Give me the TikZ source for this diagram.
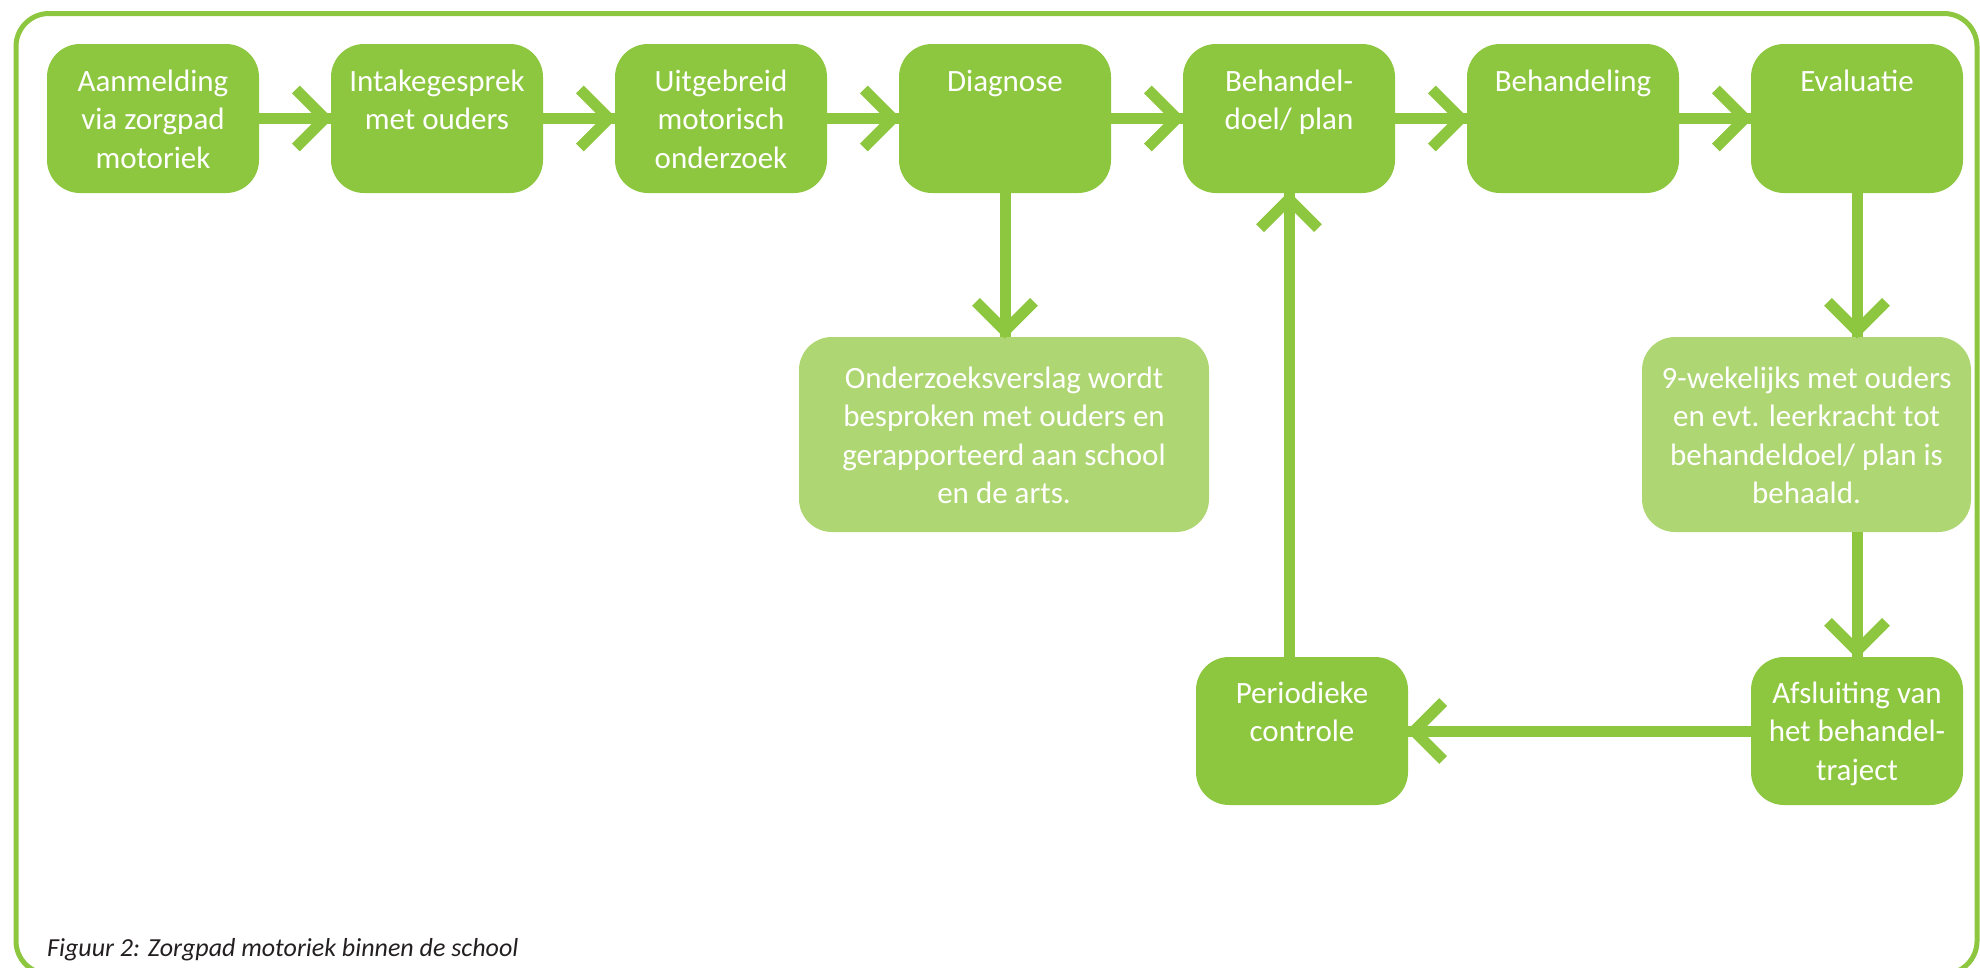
\documentclass[tikz,border=0pt]{standalone}
\usepackage{fontspec}
\setmainfont{Carlito}
\definecolor{dkgreen}{RGB}{141,198,63}
\definecolor{ltgreen}{RGB}{174,214,114}
\definecolor{captxt}{RGB}{35,31,32}
\tikzset{
  stepbox/.style={fill=dkgreen, rounded corners=33pt, inner sep=0pt, text=white},
  notebox/.style={fill=ltgreen, rounded corners=33pt, inner sep=0pt, text=white},
  conn/.style={draw=dkgreen, line width=11pt},
  chevline/.style={draw=dkgreen, line width=11pt, line join=miter, line cap=butt},
  frameline/.style={draw=dkgreen, line width=5pt, rounded corners=33pt},
  captionstyle/.style={anchor=base west, inner sep=0pt, text=captxt, font=\fontsize{26}{30}\selectfont\itshape}
}
\newcommand\boxtext[4]{\parbox[c][#2][t]{#1}{\centering\fontsize{31}{38.5}\selectfont\rule{0pt}{#3}#4}}
\newcommand\stepbx[1]{\boxtext{212pt}{149pt}{47pt}{#1}}
\newcommand\chev[2]{\draw[chevline, shift={(#1)}, rotate=#2] (-35,-29) -- (-6,0) -- (-35,29);}
\begin{document}
\begin{tikzpicture}[x=1pt,y=-1pt]
\useasboundingbox (0,0) rectangle (1980,967);
\draw[frameline] (16,13.5) rectangle (1977,974);

\node[stepbox] (b1) at (153,118.5) {\stepbx{Aanmelding\\via zorgpad\\motoriek}};
\node[stepbox] (b2) at (437,118.5) {\stepbx{Intakegesprek\\met ouders}};
\node[stepbox] (b3) at (721,118.5) {\stepbx{Uitgebreid\\motorisch\\onderzoek}};
\node[stepbox] (b4) at (1005,118.5) {\stepbx{Diagnose}};
\node[stepbox] (b5) at (1289,118.5) {\stepbx{Behandel-\\doel/ plan}};
\node[stepbox] (b6) at (1573,118.5) {\stepbx{Behandeling}};
\node[stepbox] (b7) at (1857,118.5) {\stepbx{Evaluatie}};

\node[notebox] (n1) at (1004,434.5) {\boxtext{410pt}{195pt}{51pt}{Onderzoeksverslag wordt\\besproken met ouders en\\gerapporteerd aan school\\en de arts.}};
\node[notebox] (n2) at (1806.5,434.5) {\boxtext{329pt}{195pt}{51pt}{9-wekelijks met ouders\\en evt. leerkracht tot\\behandeldoel/ plan is\\behaald.}};

\node[stepbox] (b8) at (1857,731) {\boxtext{212pt}{148pt}{46pt}{Afsluiting van\\het behandel-\\traject}};
\node[stepbox] (b9) at (1302,731) {\boxtext{212pt}{148pt}{46pt}{Periodieke\\controle}};

% top row connectors
\draw[conn] (b1.east) -- (b2.west); \chev{b2.west}{0}
\draw[conn] (b2.east) -- (b3.west); \chev{b3.west}{0}
\draw[conn] (b3.east) -- (b4.west); \chev{b4.west}{0}
\draw[conn] (b4.east) -- (b5.west); \chev{b5.west}{0}
\draw[conn] (b5.east) -- (b6.west); \chev{b6.west}{0}
\draw[conn] (b6.east) -- (b7.west); \chev{b7.west}{0}

% diagnose -> verslag
\draw[conn] (b4.south) -- (b4.south |- n1.north); \chev{b4.south |- n1.north}{-90}
% evaluatie -> 9-wekelijks
\draw[conn] (b7.south) -- (b7.south |- n2.north); \chev{b7.south |- n2.north}{-90}
% 9-wekelijks -> afsluiting
\draw[conn] (n2.south -| b8.north) -- (b8.north); \chev{b8.north}{-90}
% afsluiting -> periodieke controle
\draw[conn] (b8.west) -- (b9.east); \chev{b9.east}{180}
% periodieke controle -> behandeldoel
\draw[conn] (b9.north -| b5.south) -- (b5.south); \chev{b5.south}{90}

\node[captionstyle] (cap) at (47,956) {Figuur 2: Zorgpad motoriek binnen de school};
\end{tikzpicture}
\end{document}
